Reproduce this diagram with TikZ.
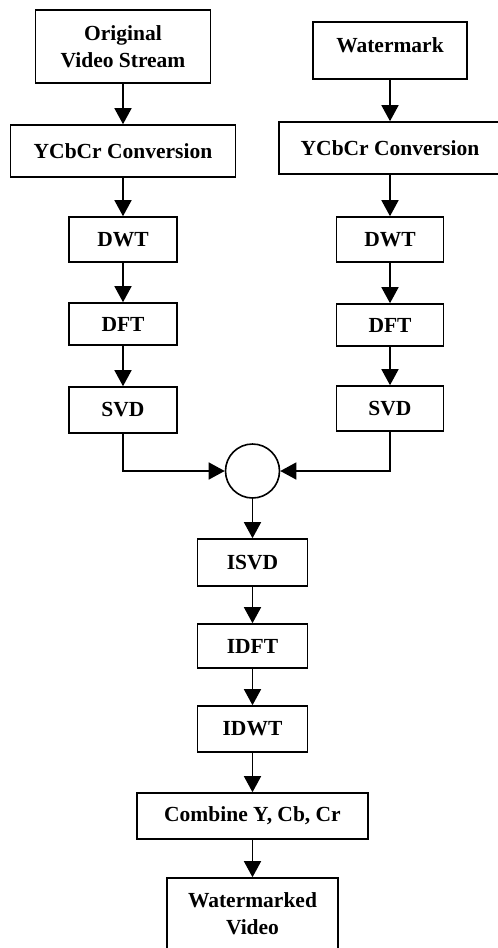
\documentclass[tikz,border=0pt]{standalone}
\usepackage{fontspec}
\setmainfont{Liberation Serif}
\usetikzlibrary{arrows.meta}
\begin{document}
\begin{tikzpicture}[x=1pt,y=-1pt,
  box/.style={draw,line width=1.6pt,inner sep=0pt,align=center,
    font=\fontsize{21.5}{27}\selectfont\bfseries},
  flow/.style={line width=1.5pt,-{Triangle[width=17pt,length=16pt]}}]
\useasboundingbox (0,0) rectangle (498,948);
\fill[white] (0,0) rectangle (498,948);
% left column
\node[box,minimum width=175pt,minimum height=73pt] (orig) at (123,46.5) {Original\\Video Stream};
\node[box,minimum width=225pt,minimum height=52pt] (ycl) at (123,151) {YCbCr Conversion};
\node[box,minimum width=108pt,minimum height=45pt] (dwtl) at (123,239.5) {DWT};
\node[box,minimum width=108pt,minimum height=42pt] (dftl) at (123,324) {DFT};
\node[box,minimum width=108pt,minimum height=46pt] (svdl) at (123,410) {SVD};
% right column
\node[box,minimum width=154pt,minimum height=57pt] (wm) at (390,50.5) {\raisebox{10pt}{Watermark}};
\node[box,minimum width=222pt,minimum height=52pt] (ycr) at (390,148) {YCbCr Conversion};
\node[box,minimum width=107pt,minimum height=45pt] (dwtr) at (390,239.5) {DWT};
\node[box,minimum width=107pt,minimum height=42pt] (dftr) at (390,325) {DFT};
\node[box,minimum width=107pt,minimum height=45pt] (svdr) at (390,408.5) {SVD};
% middle
\node[draw,circle,line width=1.6pt,minimum size=54pt,inner sep=0pt] (mix) at (252.5,471) {};
\node[box,minimum width=110pt,minimum height=47pt] (isvd) at (252.5,562.5) {ISVD};
\node[box,minimum width=110pt,minimum height=44pt] (idft) at (252.5,646) {IDFT};
\node[box,minimum width=110pt,minimum height=46pt] (idwt) at (252.5,729) {IDWT};
\node[box,minimum width=231pt,minimum height=46pt] (comb) at (252.5,816) {Combine Y, Cb, Cr};
\node[box,minimum width=171pt,minimum height=72pt] (wmv) at (252.5,914) {Watermarked\\Video};
% connectors
\draw[flow] (orig) -- (ycl);
\draw[flow] (ycl) -- (dwtl);
\draw[flow] (dwtl) -- (dftl);
\draw[flow] (dftl) -- (svdl);
\draw[flow] (wm) -- (ycr);
\draw[flow] (ycr) -- (dwtr);
\draw[flow] (dwtr) -- (dftr);
\draw[flow] (dftr) -- (svdr);
\draw[flow] (svdl.south) |- (mix.west);
\draw[flow] (svdr.south) |- (mix.east);
\draw[flow] (mix) -- (isvd);
\draw[flow] (isvd) -- (idft);
\draw[flow] (idft) -- (idwt);
\draw[flow] (idwt) -- (comb);
\draw[flow] (comb) -- (wmv);
\end{tikzpicture}
\end{document}
